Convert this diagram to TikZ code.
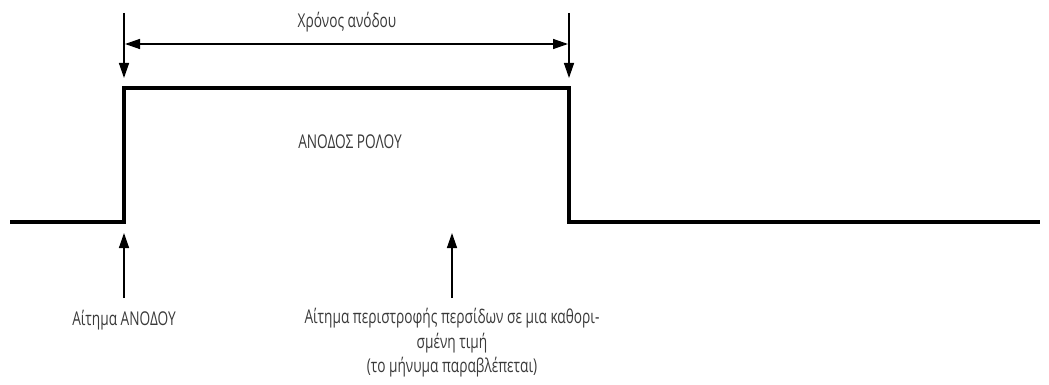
\documentclass[tikz,border=0pt]{standalone}
\usepackage{fontspec}
\setmainfont{Open Sans}[FakeStretch=0.72]
\usetikzlibrary{arrows.meta}
\definecolor{txt}{HTML}{3A3A3A}
\tikzset{
  wave/.style={line width=3.6pt, line join=miter},
  arr/.style={line width=1.4pt, -{Triangle[length=15pt,width=10pt]}},
  darr/.style={line width=1.4pt, {Triangle[length=15pt,width=10pt]}-{Triangle[length=15pt,width=10pt]}},
  lbl/.style={text=txt, font=\fontsize{19}{24.5}\selectfont, inner sep=0pt, align=center}
}
\begin{document}
\begin{tikzpicture}[x=1pt,y=-1pt]
\useasboundingbox (0,0) rectangle (1049,385);
% waveform corners
\coordinate (w0) at (10,222);
\coordinate (w1) at (124,222);
\coordinate (w2) at (124,88);
\coordinate (w3) at (569,88);
\coordinate (w4) at (569,222);
\coordinate (w5) at (1040,222);
\draw[wave] (w0) -- (w1) -- (w2) -- (w3) -- (w4) -- (w5);
% top arrows
\coordinate (t1s) at (124,13);
\coordinate (t1e) at (124,78);
\coordinate (t2s) at (569,13);
\coordinate (t2e) at (569,78);
\draw[arr] (t1s) -- (t1e);
\draw[arr] (t2s) -- (t2e);
\coordinate (h1) at (125,44);
\coordinate (h2) at (568,44);
\draw[darr] (h1) -- (h2);
\node[lbl, anchor=base] (time) at (347,28) {Χρόνος ανόδου};
\node[lbl, anchor=base] (up) at (350,148) {ΑΝΟΔΟΣ ΡΟΛΟΥ};
% bottom arrows
\coordinate (b1s) at (124,298);
\coordinate (b1e) at (124,233);
\coordinate (b2s) at (452,298);
\coordinate (b2e) at (452,233);
\draw[arr] (b1s) -- (b1e);
\draw[arr] (b2s) -- (b2e);
\node[lbl, anchor=base] (req1) at (124,325) {Αίτημα ΑΝΟΔΟΥ};
\node[lbl, anchor=north] (req2) at (452,308) {Αίτημα περιστροφής περσίδων σε μια καθορι-\\σμένη τιμή\\(το μήνυμα παραβλέπεται)};
\end{tikzpicture}
\end{document}
